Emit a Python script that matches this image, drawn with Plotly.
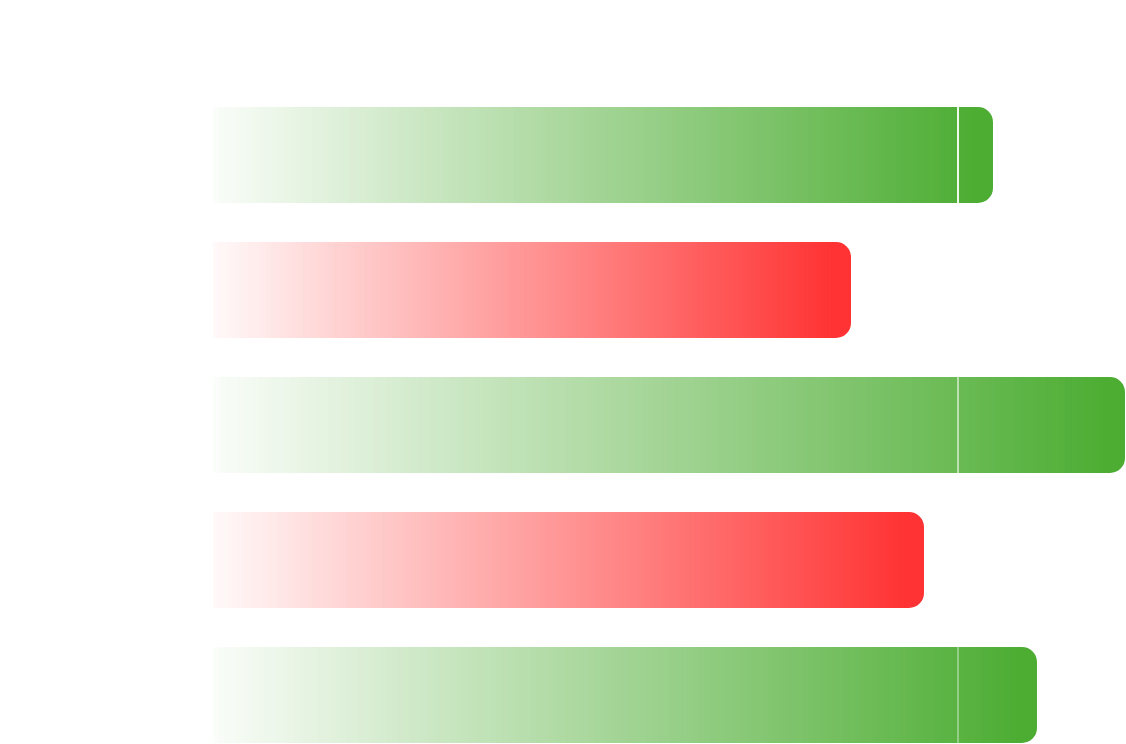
import plotly.graph_objects as go

#-------------------------------------------------------------------------------------------
# data (no text is shown on the chart)
categories = ["A", "B", "C", "D", "E"]
values = [78.0, 63.8, 91.2, 71.1, 82.4]
kinds = ["up", "down", "up", "down", "up"]
marker_value = 74.5

#-------------------------------------------------------------------------------------------
# styles
END_COLOR = {"up": (77, 173, 51), "down": (255, 51, 51)}
LINE_ALPHA = [0.9, 0.55, 0.35]
STEPS = 140
RADIUS_PX = 15
BAR_WIDTH = 0.711
PX_PER_UNIT = 10.0
START_T = 0.03


def mix(rgb, t):
	r = int(round(255 + (rgb[0] - 255) * t))
	g = int(round(255 + (rgb[1] - 255) * t))
	b = int(round(255 + (rgb[2] - 255) * t))
	return "rgb(%d,%d,%d)" % (r, g, b)


pos = list(range(len(categories)))

fig = go.Figure()

# solid rounded bar underneath, in the end colour
fig.add_trace(go.Bar(
	orientation="h",
	y=pos,
	x=values,
	width=BAR_WIDTH,
	marker=dict(color=[mix(END_COLOR[k], 1.0) for k in kinds], line=dict(width=0), cornerradius=RADIUS_PX),
	hoverinfo="skip"))

# gradient painted on top: each step starts further right and runs to the end
gy = []
gx = []
gbase = []
gcol = []
for i, v in enumerate(values):
	end = v - RADIUS_PX / PX_PER_UNIT
	for s in range(STEPS):
		t = START_T + (1 - START_T) * s / float(STEPS - 1)
		start = end * s / float(STEPS)
		gy.append(pos[i])
		gbase.append(start)
		gx.append(end - start)
		gcol.append(mix(END_COLOR[kinds[i]], t))

fig.add_trace(go.Bar(
	orientation="h",
	y=gy,
	x=gx,
	base=gbase,
	width=BAR_WIDTH,
	marker=dict(color=gcol, line=dict(width=0)),
	hoverinfo="skip"))

# thin white marker line across the green bars
j = 0
for i, k in enumerate(kinds):
	if k != "up":
		continue
	fig.add_shape(type="line", xref="x", yref="y",
		x0=marker_value, x1=marker_value,
		y0=pos[i] - BAR_WIDTH / 2, y1=pos[i] + BAR_WIDTH / 2,
		line=dict(color="white", width=2), opacity=LINE_ALPHA[j], layer="above")
	j += 1

W = 1126
H = 744
left_px = 213
xmin = -left_px / PX_PER_UNIT
xmax = xmin + W / PX_PER_UNIT
pitch = 135.0
ytop = -155.0 / pitch
ybot = ytop + H / pitch

fig.update_layout(
	width=W, height=H,
	margin=dict(l=0, r=0, t=0, b=0),
	paper_bgcolor="white",
	plot_bgcolor="white",
	barmode="overlay",
	showlegend=False,
	xaxis=dict(range=[xmin, xmax], visible=False, fixedrange=True),
	yaxis=dict(range=[ybot, ytop], visible=False, fixedrange=True),
)

# drop the browser's default body margin so the figure fills the window
fig.write_html("out.html", config={"displayModeBar": False},
	post_script="document.body.style.margin='0';")
